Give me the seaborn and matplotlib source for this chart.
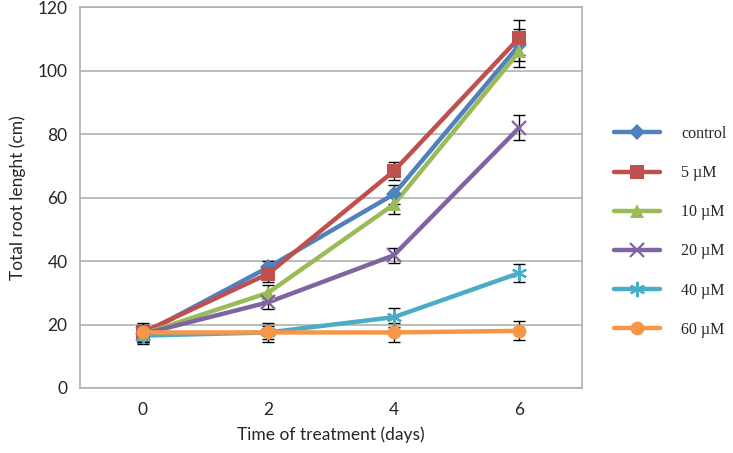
import matplotlib
matplotlib.use("Agg")
import matplotlib.pyplot as plt
import seaborn as sns
import pandas as pd
import numpy as np

days = ["0", "2", "4", "6"]
series_names = ["control", "5 µM", "10 µM", "20 µM", "40 µM", "60 µM"]
control = [17.0, 38.0, 61.0, 108.0]
um5 = [17.5, 36.0, 68.3, 110.3]
um10 = [17.0, 30.0, 57.8, 106.0]
um20 = [17.0, 27.0, 41.8, 82.0]
um40 = [16.5, 17.5, 22.3, 36.2]
um60 = [17.5, 17.5, 17.5, 18.0]
err_control = [2.5, 2.0, 3.0, 5.0]
err_um5 = [2.5, 2.5, 2.9, 5.5]
err_um10 = [2.5, 2.5, 3.0, 5.0]
err_um20 = [2.0, 2.0, 2.3, 4.0]
err_um40 = [2.5, 2.0, 3.0, 2.8]
err_um60 = [3.0, 3.0, 3.0, 3.0]

values = [control, um5, um10, um20, um40, um60]
errors = [err_control, err_um5, err_um10, err_um20, err_um40, err_um60]
colors = ["#4F81BD", "#C0504D", "#9BBB59", "#8064A2", "#4BACC6", "#F79646"]
markers = ["D", "s", "^", "x", (6, 2, 0), "o"]
msizes = [8, 10, 10, 10, 11, 10]

rows = []
for name, vals in zip(series_names, values):
    for d, v in zip(days, vals):
        rows.append({"day": d, "value": v, "series": name})
df = pd.DataFrame(rows)

sns.set_style("white")
plt.rcParams["font.family"] = ["Lato", "DejaVu Sans"]

fig = plt.figure(figsize=(7.33, 4.53), dpi=100)
ax = fig.add_axes([80/733, 1-388/453, 502/733, 381/453])

# error bars first (behind)
for vals, errs in zip(values, errors):
    ax.errorbar(days, vals, yerr=errs, fmt="none", ecolor="black",
                elinewidth=1.0, capsize=4, capthick=1.0, zorder=3)

sns.lineplot(data=df, x="day", y="value", hue="series", hue_order=series_names,
             palette=colors, sort=False, ax=ax, linewidth=3.2, legend=False, zorder=4)

handles = []
for i, (name, vals) in enumerate(zip(series_names, values)):
    m = markers[i]
    mew = 1.6 if m in ("x",) or isinstance(m, tuple) else 0
    ax.plot(days, vals, linestyle="none", marker=m, markersize=msizes[i],
            color=colors[i], markeredgecolor=colors[i], markeredgewidth=mew, zorder=5)
    h, = ax.plot([], [], color=colors[i], linewidth=3.2, marker=m,
                 markersize=msizes[i], markeredgewidth=mew, markeredgecolor=colors[i])
    handles.append(h)

ax.set_xlim(-0.5, 3.5)
ax.set_ylim(0, 120)
ax.set_yticks(np.arange(0, 121, 20))
ax.yaxis.grid(True, color="#B0B0B0", linewidth=1.2)
ax.set_axisbelow(True)
for s in ax.spines.values():
    s.set_color("#B0B0B0")
    s.set_linewidth(1.2)
ax.tick_params(axis="y", length=5, color="#B0B0B0", width=1.2, labelsize=12.5, pad=4)
ax.tick_params(axis="x", length=0, labelsize=12.5, pad=10)
ax.set_xlabel("Time of treatment (days)", fontsize=12.5, labelpad=6)
ax.set_ylabel("Total root lenght (cm)", fontsize=12.5, labelpad=8)

leg = fig.legend(handles, series_names, loc="upper left",
                 bbox_to_anchor=(614/733, 1-126/453), frameon=False,
                 prop={"family": "Liberation Serif", "size": 11.5},
                 handlelength=2.9, labelspacing=1.45, handletextpad=1.3,
                 borderaxespad=0, borderpad=0)

fig.savefig("out.png", dpi=100)
